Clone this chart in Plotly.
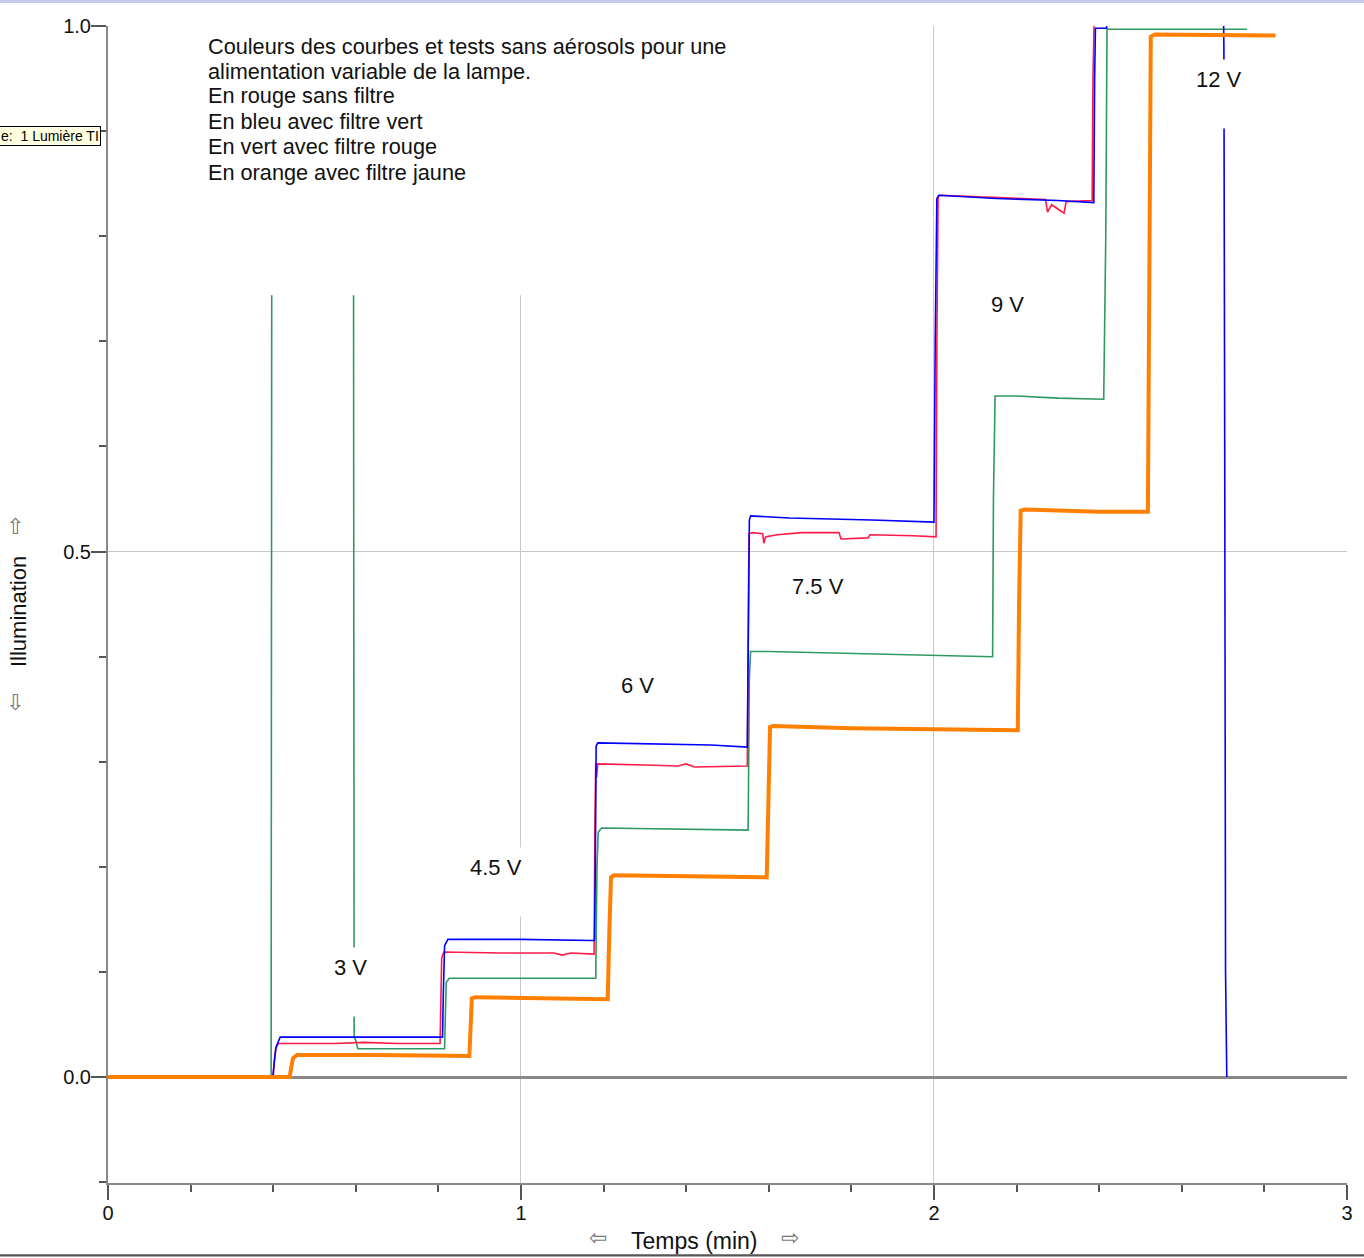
import plotly.graph_objects as go

# ---------------- data (time in min, illumination) ----------------
# En bleu : avec filtre vert
blue_t = [0, 0.399, 0.403, 0.407, 0.417, 0.60, 0.81, 0.812, 0.815, 0.823, 1.0, 1.17, 1.178,
          1.180, 1.182, 1.186, 1.30, 1.46, 1.548, 1.550, 1.553, 1.556, 1.65, 1.85, 2.0,
          2.003, 2.007, 2.012, 2.15, 2.30, 2.387, 2.389, 2.391, 2.418, 2.420, 2.700,
          2.702, 2.704, 2.706, 2.709]
blue_v = [0, 0, 0.016, 0.029, 0.038, 0.038, 0.038, 0.08, 0.125, 0.131, 0.131, 0.130, 0.130,
          0.20, 0.315, 0.318, 0.317, 0.316, 0.314, 0.40, 0.530, 0.534, 0.532, 0.530, 0.528,
          0.70, 0.836, 0.839, 0.836, 0.834, 0.832, 0.95, 0.998, 0.998, 1.05, 1.05,
          0.98, 0.60, 0.10, 0.0]

# En rouge : sans filtre
red_t = [0, 0.400, 0.403, 0.406, 0.413, 0.55, 0.62, 0.70, 0.804, 0.806, 0.808, 0.813, 0.95,
         1.08, 1.10, 1.12, 1.177, 1.179, 1.181, 1.183, 1.186, 1.30, 1.38, 1.40, 1.42, 1.548,
         1.550, 1.552, 1.56, 1.585, 1.588, 1.592, 1.62, 1.68, 1.77, 1.775, 1.84, 1.845,
         1.95, 2.005, 2.007, 2.010, 2.015, 2.15, 2.27, 2.275, 2.285, 2.30, 2.315, 2.32,
         2.383, 2.385, 2.387, 2.390]
red_v = [0, 0, 0.015, 0.027, 0.032, 0.032, 0.033, 0.032, 0.032, 0.07, 0.113, 0.119, 0.118,
         0.118, 0.116, 0.118, 0.117, 0.24, 0.299, 0.285, 0.298, 0.297, 0.296, 0.298, 0.295, 0.296,
         0.40, 0.517, 0.518, 0.517, 0.508, 0.514, 0.516, 0.518, 0.518, 0.512, 0.513, 0.516,
         0.515, 0.514, 0.70, 0.838, 0.839, 0.837, 0.835, 0.823, 0.830, 0.826, 0.822, 0.833,
         0.834, 0.95, 0.998, 1.05]

# En vert : avec filtre rouge
green_t = [0, 0.395, 0.397, 0.594, 0.596, 0.60, 0.605, 0.80, 0.815, 0.817, 0.819, 0.826, 1.0,
           1.181, 1.184, 1.187, 1.195, 1.35, 1.55, 1.553, 1.556, 1.60, 1.80, 2.0, 2.142,
           2.144, 2.148, 2.20, 2.30, 2.411, 2.416, 2.419, 2.758]
green_v = [0, 0, 1.05, 1.05, 0.038, 0.035, 0.027, 0.027, 0.027, 0.06, 0.090, 0.094, 0.094,
           0.094, 0.20, 0.233, 0.237, 0.236, 0.235, 0.38, 0.405, 0.405, 0.403, 0.401, 0.400,
           0.55, 0.648, 0.648, 0.646, 0.645, 0.80, 0.997, 0.997]

# En orange : avec filtre jaune
orange_t = [0, 0.440, 0.444, 0.448, 0.458, 0.65, 0.875, 0.878, 0.881, 0.89, 1.10, 1.210,
            1.214, 1.218, 1.225, 1.40, 1.595, 1.599, 1.603, 1.61, 1.80, 2.0, 2.203, 2.206,
            2.210, 2.22, 2.40, 2.518, 2.521, 2.525, 2.535, 2.70, 2.827]
orange_v = [0, 0, 0.010, 0.018, 0.021, 0.021, 0.020, 0.05, 0.075, 0.076, 0.075, 0.074,
            0.14, 0.190, 0.192, 0.191, 0.190, 0.26, 0.333, 0.334, 0.332, 0.331, 0.330, 0.45,
            0.539, 0.540, 0.538, 0.538, 0.75, 0.990, 0.992, 0.991, 0.991]

# voltage labels
volt_labels = ["3 V", "4.5 V", "6 V", "7.5 V", "9 V", "12 V"]
volt_t = [0.586, 0.939, 1.281, 1.719, 2.179, 2.690]
volt_v = [0.1028, 0.198, 0.371, 0.465, 0.734, 0.948]

note_lines = ["Couleurs des courbes et tests sans aérosols pour une",
              "alimentation variable de la lampe.",
              "En rouge sans filtre",
              "En bleu avec filtre vert",
              "En vert avec filtre rouge",
              "En orange avec filtre jaune"]
note_v = [0.981, 0.957, 0.934, 0.909, 0.885, 0.861]

x_ticks = [0, 1, 2, 3]
y_ticks = [0.0, 0.5, 1.0]

FONT = "Liberation Sans, Arial, sans-serif"

fig = go.Figure()
series = [
    (green_t, green_v, "#2e9960", 1.6),
    (red_t, red_v, "#ff1a4a", 1.6),
    (blue_t, blue_v, "#0000ff", 1.6),
    (orange_t, orange_v, "#ff8000", 4),
]
for t, v, c, w in series:
    fig.add_trace(go.Scatter(x=t, y=v, mode="lines", line=dict(color=c, width=w),
                             hoverinfo="skip", showlegend=False))

# white note box
fig.add_shape(type="rect", xref="x", yref="y", x0=0.2107, x1=1.615, y0=0.744, y1=1.02,
              fillcolor="white", line=dict(width=0), layer="above")

annotations = []
for txt, yv in zip(note_lines, note_v):
    annotations.append(dict(x=0.2375, y=yv, xref="x", yref="y", text=txt, showarrow=False,
                            xanchor="left", yanchor="middle",
                            font=dict(family=FONT, size=21.7, color="#111")))
for txt, xv, yv in zip(volt_labels, volt_t, volt_v):
    annotations.append(dict(x=xv, y=yv, xref="x", yref="y", text=txt + "<br> ", showarrow=False,
                            xanchor="center", yanchor="middle", yshift=-13,
                            bgcolor="white", borderpad=7,
                            font=dict(family=FONT, size=22, color="#111")))
# axis titles with arrows
ARROW = dict(family="DejaVu Sans", size=22, color="#777")
annotations += [
    dict(x=0.473, y=-0.0501, xref="paper", yref="paper", text="Temps (min)", showarrow=False,
         xanchor="center", yanchor="middle", font=dict(family=FONT, size=23, color="#111")),
    dict(x=0.3955, y=-0.0475, xref="paper", yref="paper", text="⇦", showarrow=False,
         xanchor="center", yanchor="middle", font=ARROW),
    dict(x=0.5504, y=-0.0475, xref="paper", yref="paper", text="⇨", showarrow=False,
         xanchor="center", yanchor="middle", font=ARROW),
    dict(x=-0.0726, y=0.4935, xref="paper", yref="paper", text="Illumination", showarrow=False,
         textangle=-90, xanchor="center", yanchor="middle",
         font=dict(family=FONT, size=22, color="#111")),
    dict(x=-0.0751, y=0.567, xref="paper", yref="paper", text="⇧", showarrow=False,
         xanchor="center", yanchor="middle", font=ARROW),
    dict(x=-0.0751, y=0.4149, xref="paper", yref="paper", text="⇩", showarrow=False,
         xanchor="center", yanchor="middle", font=ARROW),
    dict(x=-0.0057, y=0.905, xref="paper", yref="paper", text="e:  1 Lumière TI",
         showarrow=False, xanchor="right", yanchor="middle", bgcolor="#ffffe1",
         bordercolor="#000", borderwidth=1, borderpad=1,
         font=dict(family=FONT, size=14, color="#000")),
]

# window chrome
fig.add_shape(type="rect", xref="paper", yref="paper", x0=-0.09, x1=1.02, y0=1.0199, y1=1.03,
              fillcolor="#c8c8f0", line=dict(width=0), layer="above")
fig.add_shape(type="rect", xref="paper", yref="paper", x0=-0.09, x1=1.02, y0=-0.0635, y1=-0.0615,
              fillcolor="#555555", line=dict(width=0), layer="above")

fig.update_layout(
    width=1364, height=1258,
    margin=dict(l=108, r=17, t=26, b=75, pad=0),
    paper_bgcolor="white", plot_bgcolor="white",
    showlegend=False,
    annotations=annotations,
    font=dict(family=FONT, size=20, color="#111"),
    xaxis=dict(range=[0, 3.0001], tickmode="array", tickvals=x_ticks,
               ticktext=[str(v) for v in x_ticks],
               ticks="outside", ticklen=15, tickwidth=2, tickcolor="#555",
               ticklabelstandoff=-4,
               showline=True, linecolor="#888", linewidth=2,
               showgrid=True, gridcolor="#c8c8c8", gridwidth=1, zeroline=False,
               minor=dict(dtick=0.2, tick0=0, ticks="outside", ticklen=7, tickwidth=2,
                          tickcolor="#555", showgrid=False),
               tickfont=dict(family=FONT, size=20, color="#111")),
    yaxis=dict(range=[-0.1008, 1.0001], tickmode="array", tickvals=y_ticks,
               ticktext=["%.1f" % v for v in y_ticks],
               ticks="outside", ticklen=15, tickwidth=2, tickcolor="#555",
               ticklabelstandoff=-4,
               showline=True, linecolor="#888", linewidth=2,
               showgrid=True, gridcolor="#c8c8c8", gridwidth=1,
               zeroline=True, zerolinecolor="#888", zerolinewidth=3,
               minor=dict(dtick=0.1, tick0=0, ticks="outside", ticklen=7, tickwidth=2,
                          tickcolor="#555", showgrid=False),
               tickfont=dict(family=FONT, size=20, color="#111")),
)

fig.write_html("out.html", config={"displayModeBar": False},
               post_script="document.body.style.margin='0px';document.body.style.overflow='hidden';")
